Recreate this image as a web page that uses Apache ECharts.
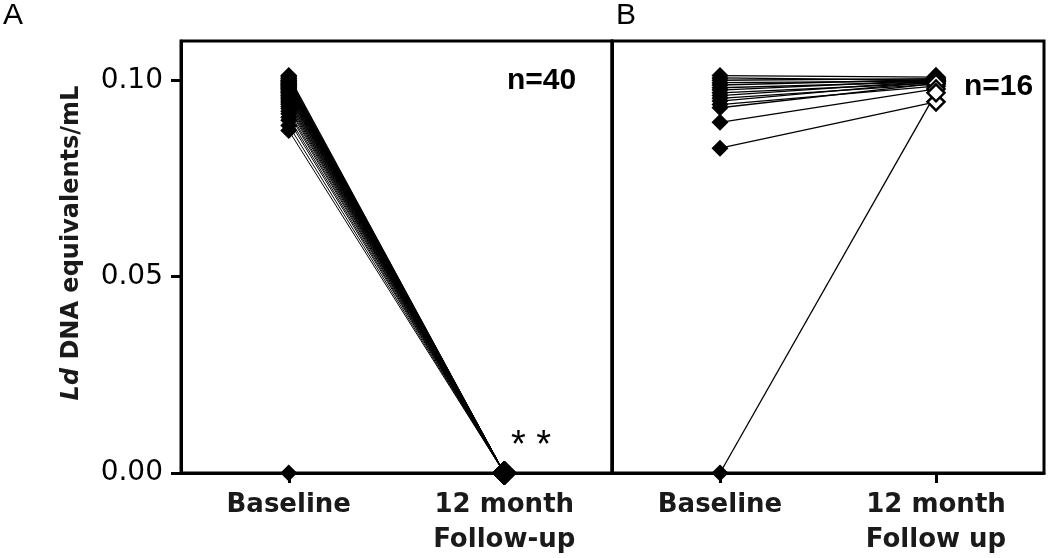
<!DOCTYPE html>
<html>
<head>
<meta charset="utf-8">
<script src="https://cdn.jsdelivr.net/npm/echarts@6/dist/echarts.min.js"></script>
<style>
html, body { margin: 0; padding: 0; background: #fff; }
#chart { width: 1050px; height: 558px; }
</style>
</head>
<body>
<div id="chart"></div>
<script>
// categories
const categoriesA = ['Baseline', '12 month\nFollow-up'];
const categoriesB = ['Baseline', '12 month\nFollow up'];
const yTicks = [0, 0.05, 0.10];

// panel A: 40 subjects, baseline -> 12 month
const baselineA = [
    0.1012, 0.1009, 0.1006, 0.1004, 0.1001, 0.0999, 0.0998, 0.0996, 0.0994, 0.0992,
    0.0990, 0.0989, 0.0987, 0.0985, 0.0983, 0.0981, 0.0979, 0.0977, 0.0975, 0.0972,
    0.0970, 0.0968, 0.0965, 0.0962, 0.0960, 0.0957, 0.0953, 0.0950, 0.0946, 0.0942,
    0.0938, 0.0933, 0.0928, 0.0921, 0.0915, 0.0906, 0.0898, 0.0885, 0.0872, 0
];
const followUpA = [
    0, 0, 0, 0, 0, 0, 0, 0, 0, 0,
    0, 0, 0, 0, 0, 0, 0, 0, 0, 0,
    0, 0, 0, 0, 0, 0, 0, 0, 0, 0,
    0, 0, 0, 0, 0, 0, 0, 0, 0, 0
];

// panel B: 16 subjects
const baselineB = [
    0.1012, 0.1006, 0.1000, 0.0994, 0.0988, 0.0981, 0.0975, 0.0968,
    0.0961, 0.0954, 0.0947, 0.0938, 0.0930, 0.0893, 0.0827, 0
];
const followUpB = [
    0.1008, 0.1000, 0.1004, 0.0998, 0.1002, 0.0996, 0.1000, 0.0993,
    0.0998, 0.0990, 0.0996, 0.0985, 0.0992, 0.0978, 0.0945, 0.0968
];

const chart = echarts.init(document.getElementById('chart'));

function xAxisOf(idx, cats) {
    return {
        type: 'category', gridIndex: idx, data: cats, boundaryGap: true,
        axisLine: { show: true, lineStyle: { color: '#000', width: 3 } },
        axisTick: { show: true, alignWithLabel: true, length: 10, lineStyle: { color: '#000', width: 3 } },
        axisLabel: {
            interval: 0, margin: 15, fontFamily: 'DejaVu Sans', fontWeight: 'bold',
            fontSize: 26, lineHeight: 35, color: '#1a1a1a'
        },
        splitLine: { show: false }
    };
}

function yAxisOf(idx, withLabels) {
    return {
        type: 'value', gridIndex: idx, min: 0, max: 0.11,
        axisLine: { show: true, lineStyle: { color: '#000', width: 3 } },
        axisTick: { show: withLabels, length: 10, customValues: yTicks, lineStyle: { color: '#000', width: 3 } },
        axisLabel: {
            show: withLabels, customValues: yTicks, margin: 18,
            fontFamily: 'DejaVu Sans', fontSize: 28, color: '#000',
            formatter: v => v.toFixed(2)
        },
        splitLine: { show: false },
        name: withLabels ? '{i|Ld} DNA equivalents/mL' : '',
        nameLocation: 'middle', nameGap: 97,
        nameTextStyle: {
            fontFamily: 'DejaVu Sans', fontWeight: 'bold', fontSize: 24, color: '#1a1a1a',
            padding: [0, 0, 0, 28],
            rich: { i: { fontFamily: 'DejaVu Sans', fontWeight: 'bold', fontStyle: 'italic', fontSize: 24, color: '#1a1a1a' } }
        }
    };
}

const series = [];
baselineA.forEach((b, i) => {
    series.push({
        type: 'line', xAxisIndex: 0, yAxisIndex: 0, clip: false, silent: true,
        data: [b, followUpA[i]],
        symbol: 'diamond',
        symbolSize: (v, p) => p.dataIndex === 1 ? 24 : 17,
        lineStyle: { color: '#000', width: 1 },
        itemStyle: { color: '#000' }
    });
});
baselineB.forEach((b, i) => {
    series.push({
        type: 'line', xAxisIndex: 1, yAxisIndex: 1, clip: false, silent: true,
        data: [b, { value: followUpB[i], itemStyle: { color: '#fff', borderColor: '#000', borderWidth: 2.5 } }],
        symbol: 'diamond', symbolSize: 17,
        lineStyle: { color: '#000', width: 1.3 },
        itemStyle: { color: '#000' }
    });
});

const option = {
    backgroundColor: '#fff',
    animation: false,
    grid: [
        { left: 181, top: 41, width: 431, height: 432, show: true, borderColor: '#000', borderWidth: 3, backgroundColor: 'transparent' },
        { left: 612, top: 41, width: 432, height: 432, show: true, borderColor: '#000', borderWidth: 3, backgroundColor: 'transparent' }
    ],
    xAxis: [xAxisOf(0, categoriesA), xAxisOf(1, categoriesB)],
    yAxis: [yAxisOf(0, true), yAxisOf(1, false)],
    graphic: [
        { type: 'text', left: 3, top: 1, style: { text: 'A', font: '30px "Liberation Sans"', fill: '#000' } },
        { type: 'text', left: 616, top: 1, style: { text: 'B', font: '30px "Liberation Sans"', fill: '#000' } },
        { type: 'text', left: 507, top: 66, style: { text: 'n=40', font: 'bold 30px "Liberation Sans"', fill: '#000' } },
        { type: 'text', left: 964, top: 72, style: { text: 'n=16', font: 'bold 30px "Liberation Sans"', fill: '#000' } },
        { type: 'text', left: 511, top: 428, style: { text: '* *', font: '38px "Liberation Sans"', fill: '#000' } }
    ],
    series: series
};

chart.setOption(option);
</script>
</body>
</html>
